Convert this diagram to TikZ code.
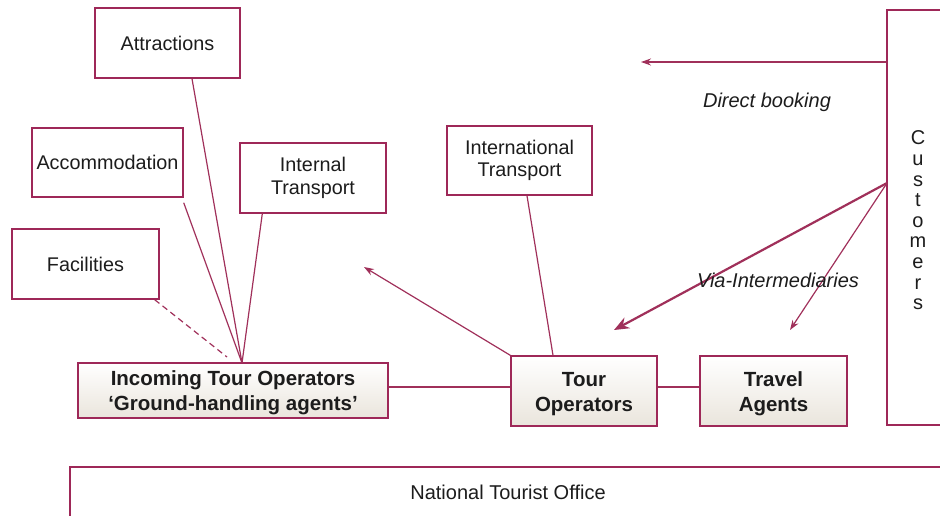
\documentclass[tikz,border=0pt]{standalone}
\usepackage{fontspec}
\setmainfont{Liberation Sans}
\usetikzlibrary{arrows.meta}
\definecolor{rim}{RGB}{158,40,88}
\definecolor{wire}{RGB}{160,48,90}
\definecolor{ink}{RGB}{28,28,28}
\definecolor{sand}{RGB}{234,229,220}
\tikzset{
  box/.style={draw=rim, line width=1.4pt, rectangle, inner sep=0pt, align=center,
    text=ink, font=\fontsize{19.8}{22.5}\selectfont},
  shadebox/.style={box, top color=white, bottom color=sand, font=\fontsize{20.5}{25}\selectfont\bfseries},
  wireline/.style={draw=wire, line width=1.2pt},
  pointer/.style={wireline, -{Stealth[length=10pt,width=7pt]}},
  bigpointer/.style={draw=wire, line width=2.2pt, -{Stealth[length=15pt,width=12pt]}},
  flowlabel/.style={text=ink, font=\fontsize{20}{23}\selectfont\itshape}
}
\begin{document}
\begin{tikzpicture}[x=1pt, y=-1pt]
\useasboundingbox (0,0) rectangle (940,515);
\clip (0,0) rectangle (940,515);

% supplier boxes
\node[box, minimum width=145, minimum height=70] (attr) at (167.5,43) {Attractions};
\node[box, minimum width=151, minimum height=69] (acc) at (107.5,162.5) {Accommodation};
\node[box, minimum width=147, minimum height=70] (fac) at (85.5,264) {Facilities};
\node[box, minimum width=146, minimum height=70] (inland) at (313,178) {Internal\\Transport};
\node[box, minimum width=145, minimum height=69] (abroad) at (519.5,160.5) {International\\Transport};

% operators and agents
\node[shadebox, minimum width=310, minimum height=55] (inc) at (233,390.5)
  {\rule{0pt}{20pt}Incoming Tour Operators\\`Ground-handling agents'};
\node[shadebox, minimum width=146, minimum height=70] (tour) at (584,391)
  {\rule{0pt}{20pt}Tour\\Operators};
\node[shadebox, minimum width=147, minimum height=70] (agents) at (773.5,391)
  {\rule{0pt}{20pt}Travel\\Agents};

% customers column and its stacked caption
\node[box, minimum width=62, minimum height=415] (cust) at (918,217.5) {};
\node[text=ink, align=center, inner sep=0pt, font=\fontsize{20}{20.6}\selectfont]
  (custname) at (918,220.5) {C\\u\\s\\t\\o\\m\\e\\r\\s};

% tourist office strip
\node[box, minimum width=876, minimum height=50,
  font=\fontsize{20}{22}\selectfont] (nto) at (508,492) {National Tourist Office};

% meeting point of the supplier lines
\coordinate (hub) at (242,363);
\draw[wireline] ([xshift=24.5]attr.south) -- (hub);
\draw[wireline] ([yshift=-5]acc.south east) -- (hub);
\draw[wireline] ([xshift=23]inland.south west) -- (hub);
\draw[wireline, dashed, dash pattern=on 6pt off 4pt] ([xshift=-5]fac.south east) -- (227,357);

% links between operators
\draw[wireline] ([yshift=3.5]inc.east) -- ([yshift=4]tour.west);
\draw[wireline] ([yshift=4]tour.east) -- ([yshift=4]agents.west);
\draw[wireline] ([xshift=7.5]abroad.south) -- ([xshift=-31]tour.north);
\coordinate (outbound) at (364,267);
\draw[pointer] (tour.north west) -- (outbound);

% booking channels
\coordinate (direct) at (641,62);
\draw[pointer] (cust.west |- direct) -- (direct);
\coordinate (fan) at (887,183);
\coordinate (toTour) at (614,330);
\coordinate (toAgents) at (790,330);
\draw[bigpointer] (fan) -- (toTour);
\draw[pointer] (fan) -- (toAgents);

\node[flowlabel] (dlabel) at (767,102) {Direct booking};
\node[flowlabel] (vlabel) at (778,280) {Via-Intermediaries};
\end{tikzpicture}
\end{document}
